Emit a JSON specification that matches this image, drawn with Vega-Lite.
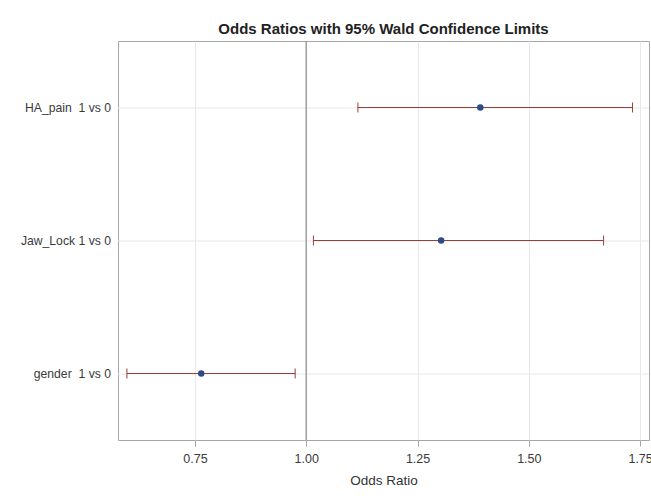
{
  "$schema": "https://vega.github.io/schema/vega-lite/v6.json",
  "autosize": "none",
  "width": 531,
  "height": 399,
  "padding": {"left": 118, "top": 41, "right": 2, "bottom": 58},
  "background": "white",
  "title": {
    "text": "Odds Ratios with 95% Wald Confidence Limits",
    "font": "Liberation Sans",
    "fontSize": 15,
    "fontWeight": "bold",
    "color": "#222222",
    "anchor": "middle",
    "frame": "group",
    "baseline": "alphabetic",
    "offset": -8
  },
  "data": {
    "values": [
      {"effect": "HA_pain\u00a0 1 vs 0", "or": 1.391, "low": 1.116, "high": 1.733},
      {"effect": "Jaw_Lock 1 vs 0", "or": 1.303, "low": 1.016, "high": 1.668},
      {"effect": "gender\u00a0 1 vs 0", "or": 0.764, "low": 0.597, "high": 0.975}
    ]
  },
  "config": {
    "view": {"stroke": "#a6a6a6", "strokeWidth": 1},
    "axis": {
      "labelFont": "Liberation Sans",
      "labelFontSize": 12.5,
      "labelColor": "#3a3a3a",
      "titleFont": "Liberation Sans",
      "titleFontSize": 13.5,
      "titleFontWeight": "normal",
      "titleColor": "#333333",
      "gridColor": "#e8e8e8",
      "domain": false
    }
  },
  "encoding": {
    "y": {
      "field": "effect",
      "type": "nominal",
      "sort": null,
      "scale": {"type": "point", "padding": 0.5},
      "axis": {"title": null, "ticks": false, "labelPadding": 7, "labelFontSize": 12.2, "grid": true, "translate": 0}
    }
  },
  "layer": [
    {
      "mark": {"type": "rule", "color": "#a0a0a0", "strokeWidth": 1},
      "encoding": {
        "x": {"datum": 1, "type": "quantitative"},
        "y": null
      }
    },
    {
      "mark": {"type": "rule", "color": "#96403c", "strokeWidth": 1},
      "encoding": {
        "x": {
          "field": "low",
          "type": "quantitative",
          "scale": {"domain": [0.577, 1.77], "nice": false, "zero": false},
          "axis": {
            "title": "Odds Ratio",
            "values": [0.75, 1.0, 1.25, 1.5, 1.75],
            "format": ".2f",
            "grid": true,
            "tickSize": 6,
            "tickColor": "#a6a6a6",
            "labelPadding": 6,
            "titlePadding": 9
          }
        },
        "x2": {"field": "high"}
      }
    },
    {
      "mark": {"type": "tick", "color": "#96403c", "thickness": 1, "size": 10, "orient": "vertical", "opacity": 1},
      "encoding": {"x": {"field": "low", "type": "quantitative"}}
    },
    {
      "mark": {"type": "tick", "color": "#96403c", "thickness": 1, "size": 10, "orient": "vertical", "opacity": 1},
      "encoding": {"x": {"field": "high", "type": "quantitative"}}
    },
    {
      "mark": {"type": "point", "filled": true, "opacity": 1, "size": 42, "color": "#2d4a8a"},
      "encoding": {"x": {"field": "or", "type": "quantitative"}}
    }
  ]
}
